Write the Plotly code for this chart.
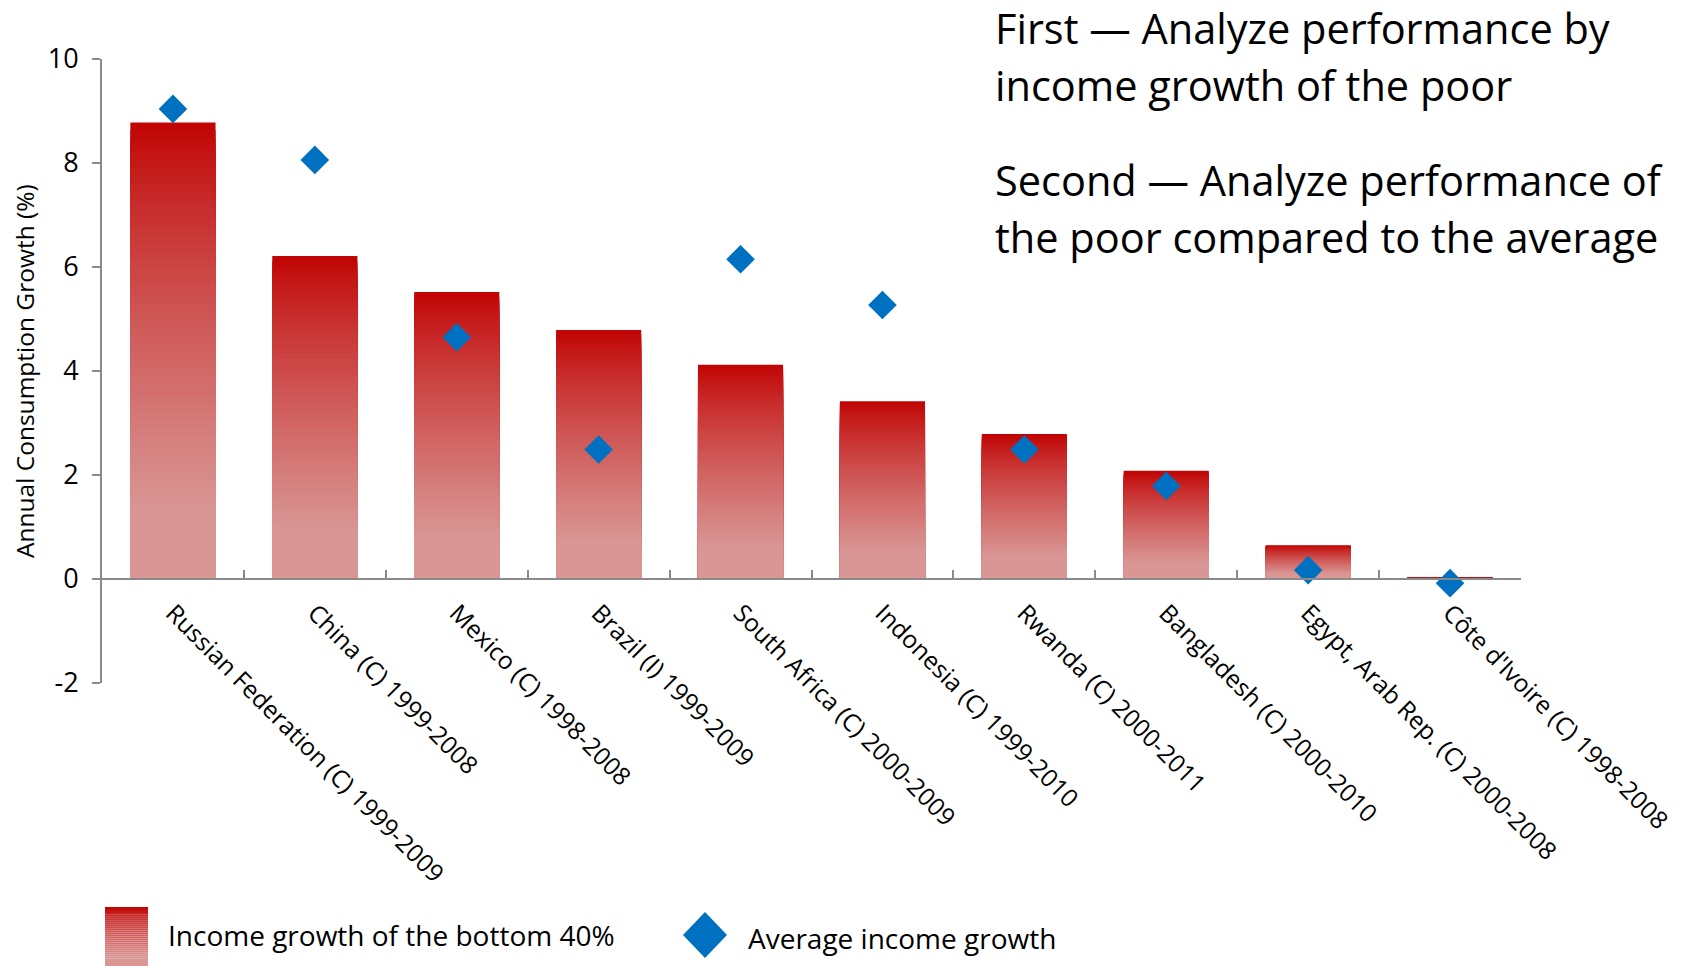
import plotly.graph_objects as go

categories = [
    "Russian Federation (C) 1999-2009",
    "China (C) 1999-2008",
    "Mexico (C) 1998-2008",
    "Brazil (I) 1999-2009",
    "South Africa (C) 2000-2009",
    "Indonesia (C) 1999-2010",
    "Rwanda (C) 2000-2011",
    "Bangladesh (C) 2000-2010",
    "Egypt, Arab Rep. (C) 2000-2008",
    "Côte d'Ivoire (C) 1998-2008",
]
bottom40 = [8.78, 6.21, 5.52, 4.79, 4.12, 3.42, 2.79, 2.08, 0.65, 0.02]
average = [9.04, 8.06, 4.65, 2.49, 6.15, 5.27, 2.49, 1.79, 0.17, -0.08]

y_tickvals = [-2, 0, 2, 4, 6, 8, 10]
y_ticktext = ["-2", "0", "2", "4", "6", "8", "10"]

series_names = ["Income growth of the bottom 40%", "Average income growth"]
title_lines = [
    "First — Analyze performance by",
    "income growth of the poor",
    "Second — Analyze performance of",
    "the poor compared to the average",
]
y_title = "Annual Consumption Growth (%)"

W_PX, H_PX = 1682, 966
L, R, T, B = 102, 1521, 59, 683
PW, PH = R - L, B - T

def px(X):
    return (X - L) / PW

def py(Y):
    return (B - Y) / PH

TOP = (192, 0, 0)
BOT = (217, 150, 148)

def grad(f):
    t = min(f / 0.85, 1.0) ** 0.8
    c = [round(a + (b - a) * t) for a, b in zip(TOP, BOT)]
    return f"rgb({c[0]},{c[1]},{c[2]})"

fig = go.Figure()

N = 60
for k in range(N):
    f = k / N
    fig.add_trace(go.Bar(
        x=categories,
        y=[v * (1 - f) for v in bottom40],
        width=0.6,
        marker=dict(color=grad(f + 0.5 / N), line=dict(width=0)),
        showlegend=False,
        hoverinfo="skip" if k else None,
        name=series_names[0],
    ))

fig.add_trace(go.Scatter(
    x=categories, y=average, mode="markers",
    marker=dict(symbol="diamond", size=22, color="#0070C0", line=dict(width=0)),
    name=series_names[1], showlegend=False,
))

axis_color = "#8a8a8a"
fig.update_layout(
    width=W_PX, height=H_PX,
    margin=dict(l=L, r=W_PX - R, t=T, b=H_PX - B, autoexpand=False),
    paper_bgcolor="white", plot_bgcolor="white",
    barmode="overlay",
    showlegend=False,
    font=dict(family="Open Sans", color="black"),
    xaxis=dict(
        type="category", range=[-0.5, 9.5],
        anchor="free", position=2 / 12,
        showline=True, linecolor=axis_color, linewidth=2,
        ticks="inside", tickson="boundaries", ticklen=8, tickwidth=1.5, tickcolor=axis_color,
        tickangle=45, tickfont=dict(family="Open Sans", size=24.5, color="black"),
        ticklabelstandoff=9,
        showgrid=False, zeroline=False,
    ),
    yaxis=dict(
        range=[-2, 10], tickmode="array", tickvals=y_tickvals, ticktext=y_ticktext,
        showline=True, linecolor=axis_color, linewidth=2,
        ticks="outside", ticklen=8, tickwidth=1.5, tickcolor=axis_color,
        tickfont=dict(family="Open Sans", size=27, color="black"),
        ticklabelstandoff=8,
        showgrid=False, zeroline=False,
    ),
)

annotations = []
annotations.append(dict(
    text=y_title, textangle=-90, x=px(24), y=py(371), xref="paper", yref="paper",
    xanchor="center", yanchor="middle", showarrow=False,
    font=dict(family="Open Sans", size=24.5, color="black"),
))
for line, cy in zip(title_lines, [28, 85, 180, 237]):
    annotations.append(dict(
        text=line, x=px(993), y=py(cy), xref="paper", yref="paper",
        xanchor="left", yanchor="middle", showarrow=False,
        font=dict(family="Open Sans", size=41.5, color="black"),
    ))
annotations.append(dict(
    text=series_names[0], x=px(166), y=py(935), xref="paper", yref="paper",
    xanchor="left", yanchor="middle", showarrow=False,
    font=dict(family="Open Sans", size=28, color="black"),
))
annotations.append(dict(
    text=series_names[1], x=px(746), y=py(938), xref="paper", yref="paper",
    xanchor="left", yanchor="middle", showarrow=False,
    font=dict(family="Open Sans", size=28, color="black"),
))
fig.update_layout(annotations=annotations)

shapes = []
NS = 30
y0, y1 = 907, 966
for k in range(NS):
    ya = y0 + (y1 - y0) * k / NS
    yb = y0 + (y1 - y0) * (k + 1) / NS
    shapes.append(dict(
        type="rect", xref="paper", yref="paper",
        x0=px(105), x1=px(148), y0=py(yb), y1=py(ya),
        fillcolor=grad((k + 0.5) / NS), line=dict(width=0), layer="above",
    ))
cx, cy, hw, hh = 705, 935, 22, 23
shapes.append(dict(
    type="path", xref="paper", yref="paper",
    path=f"M {px(cx)},{py(cy-hh)} L {px(cx+hw)},{py(cy)} L {px(cx)},{py(cy+hh)} L {px(cx-hw)},{py(cy)} Z",
    fillcolor="#0070C0", line=dict(width=0),
))
fig.update_layout(shapes=shapes)

fig.write_html("out.html")
